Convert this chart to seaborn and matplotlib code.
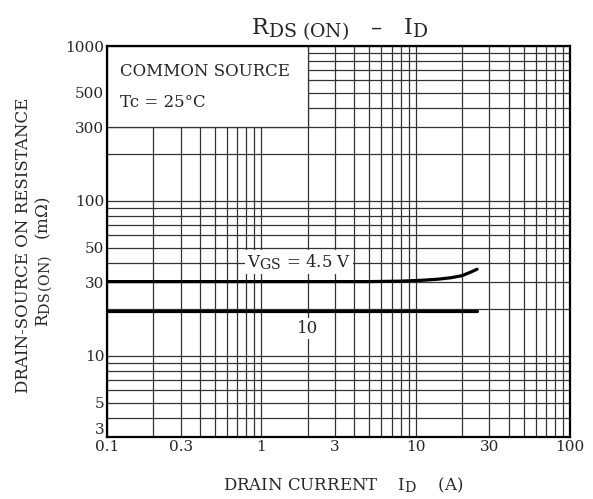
import numpy as np
import pandas as pd
import matplotlib
matplotlib.use("Agg")
import matplotlib.pyplot as plt
import matplotlib._mathtext as mathtext_internals
import seaborn as sns
from matplotlib.patches import Rectangle
from matplotlib.ticker import FixedLocator, NullLocator

sns.set_style("white")
plt.rcParams['font.family'] = ['DejaVu Serif']
plt.rcParams['mathtext.fontset'] = 'dejavuserif'
# datasheet subscripts are nearly full size
mathtext_internals.SHRINK_FACTOR = 0.85

# ----------------- data -----------------
id_45 = [0.1, 1, 5, 8, 11, 14, 17, 20, 22.5, 25]
r_45 = [30.2, 30.2, 30.2, 30.4, 30.8, 31.3, 32.0, 33.0, 34.6, 36.3]
id_10 = [0.1, 25]
r_10 = [19.5, 19.5]

x_ticks = [0.1, 0.3, 1, 3, 10, 30, 100]
x_labels = ["0.1", "0.3", "1", "3", "10", "30", "100"]
y_ticks = [3, 5, 10, 30, 50, 100, 300, 500, 1000]
y_labels = ["3", "5", "10", "30", "50", "100", "300", "500", "1000"]

df = pd.concat([
    pd.DataFrame({"id": id_45, "r": r_45, "vgs": "4.5"}),
    pd.DataFrame({"id": id_10, "r": r_10, "vgs": "10"}),
])

fig = plt.figure(figsize=(5.93, 4.99), dpi=100)
ax = fig.add_axes([0.1804, 0.1242, 0.7808, 0.7836])
ax.set_xscale("log")
ax.set_yscale("log")
ax.set_xlim(0.1, 100)
ax.set_ylim(3, 1000)

# grid on every 1..9 step of each decade
xg = [m * 10.0 ** e for e in range(-1, 2) for m in range(1, 10)] + [100]
yg = [m * 10.0 ** e for e in range(0, 3) for m in range(1, 10) if m * 10.0 ** e >= 3] + [1000]
for v in xg:
    ax.axvline(v, color="0.2", lw=0.9, zorder=1)
for v in yg:
    ax.axhline(v, color="0.2", lw=0.9, zorder=1)

# condition box (white patch hiding the grid)
ax.add_patch(Rectangle((0.1, 300), 2 - 0.1, 1000 - 300, facecolor="white",
                       edgecolor="0.2", lw=0.9, zorder=2))
ax.text(0.121, 680, "COMMON SOURCE", fontsize=12, va="center", ha="left", zorder=3)
ax.text(0.121, 430, "Tc = 25°C", fontsize=12, va="center", ha="left", zorder=3)

sns.lineplot(data=df, x="id", y="r", units="vgs", estimator=None, color="black",
             lw=2.3, ax=ax, zorder=4, legend=False)

ax.text(1.75, 40.5, r"$\mathregular{V_{GS}}$ = 4.5 V", fontsize=12, ha="center", va="center",
        zorder=5, bbox=dict(facecolor="white", edgecolor="none", pad=1.5))
ax.text(2.0, 15, "10", fontsize=12, ha="center", va="center",
        zorder=5, bbox=dict(facecolor="white", edgecolor="none", pad=1.5))

ax.xaxis.set_major_locator(FixedLocator(x_ticks))
ax.xaxis.set_minor_locator(NullLocator())
ax.set_xticklabels(x_labels)
ax.yaxis.set_major_locator(FixedLocator(y_ticks))
ax.yaxis.set_minor_locator(NullLocator())
ax.set_yticklabels(y_labels)
ax.tick_params(axis="both", length=0, labelsize=11, pad=2)
ax.get_yticklabels()[0].set_va("bottom")
ax.set_xlabel("")
ax.set_ylabel("")
for s in ax.spines.values():
    s.set_color("black")
    s.set_linewidth(1.6)
    s.set_zorder(6)

fig.text(0.572, 0.930, r"$\mathregular{R_{DS\ (ON)}}$   –   $\mathregular{I_D}$", fontsize=16,
         ha="center", va="baseline")
fig.text(0.578, 0.018, r"DRAIN CURRENT    $\mathregular{I_D}$    (A)", fontsize=12,
         ha="center", va="baseline")
fig.text(0.040, 0.508, "DRAIN-SOURCE ON RESISTANCE", fontsize=12, rotation=90,
         ha="center", va="center")
fig.text(0.074, 0.475, r"$\mathregular{R_{DS\,(ON)}}$   (m$\Omega$)", fontsize=12, rotation=90,
         ha="center", va="center")

fig.savefig("out.png", dpi=100)
